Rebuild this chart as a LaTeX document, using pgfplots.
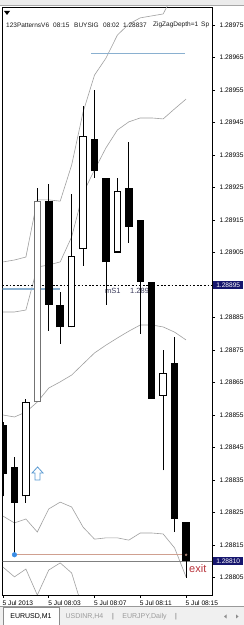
\documentclass[border=0pt]{standalone}
\usepackage{fontspec}
\setmainfont{Liberation Sans}
\usepackage{pgfplots}
\usepackage{pgfplotstable}
\pgfplotsset{compat=1.18}
\definecolor{band}{HTML}{A0A0A0}
\definecolor{lblue}{HTML}{8AB0D0}
\definecolor{navybox}{HTML}{16166E}
\definecolor{tanline}{HTML}{D0A090}
\definecolor{dotblue}{HTML}{3A8EE6}
\definecolor{arrowblue}{HTML}{5A9AD2}
\definecolor{exitred}{HTML}{B8323A}
\definecolor{msone}{HTML}{3C3C5C}
\definecolor{tabgray}{HTML}{9A9A9A}

% prices stored as (price - 1.28) * 100000
\pgfplotstableread{
x o h l c
0 8852 8853 8830 8837
1 8839 8842 8812 8828
2 8830 8860 8828 8859
3 8859 8925 8859 8921
4 8921 8926 8881 8889
5 8889 8893 8877 8882
6 8882 8923 8882 8904
7 8906 8950 8901 8941
8 8940 8955 8928 8930
9 8928 8928 8889 8902
10 8905 8928 8905 8924
11 8925 8939 8908 8913
12 8915 8915 8880 8896
13 8896 8896 8860 8860
14 8861 8875 8838 8868
15 8871 8879 8819 8823
16 8822 8822 8805 8810
}\ohlc
\pgfplotstableread{
x o c
0 8852 8837
1 8839 8828
4 8921 8889
5 8889 8882
8 8940 8930
9 8928 8902
11 8925 8913
12 8915 8896
13 8896 8860
15 8871 8823
16 8822 8810
}\bear
\pgfplotstableread{
x o c
2 8830 8859
6 8882 8904
7 8906 8941
10 8905 8924
14 8861 8868
}\bull
\pgfplotstableread{
x o c
3 8859 8921
}\bullgray

\pgfdeclareplotmark{hollowup}{%
  \pgfpathmoveto{\pgfqpoint{0pt}{6.5pt}}%
  \pgfpathlineto{\pgfqpoint{5.5pt}{0.5pt}}%
  \pgfpathlineto{\pgfqpoint{2.5pt}{0.5pt}}%
  \pgfpathlineto{\pgfqpoint{2.5pt}{-6.5pt}}%
  \pgfpathlineto{\pgfqpoint{-2.5pt}{-6.5pt}}%
  \pgfpathlineto{\pgfqpoint{-2.5pt}{0.5pt}}%
  \pgfpathlineto{\pgfqpoint{-5.5pt}{0.5pt}}%
  \pgfpathclose
  \pgfusepathqfillstroke}

\pgfplotsset{candle/.style={only marks, mark=*, mark size=0pt,
  mark options={draw opacity=0, fill opacity=0},
  error bars/.cd, y dir=plus, y explicit, error mark=none}}

\begin{document}
\begin{tikzpicture}
\path[use as bounding box] (0pt,0pt) rectangle (244pt,625pt);
\fill[white] (0pt,0pt) rectangle (244pt,625pt);
\fill[black!8] (0pt,620pt) rectangle (244pt,625pt);
\draw[black!35, line width=0.5pt] (0pt,620pt) -- (244pt,620pt);
% mS1 label (behind candles)
\node[anchor=west, inner sep=0pt, text=msone, font=\fontsize{7.5}{8}\selectfont] at (105pt,334pt) {mS1};
\node[anchor=west, inner sep=0pt, text=msone, font=\fontsize{7.5}{8}\selectfont] at (130pt,334pt) {1.2890};

\begin{axis}[
  at={(2.5pt,30pt)}, anchor=south west,
  scale only axis, width=209.5pt, height=588pt,
  xmin=-0.044, xmax=18.27, ymin=8799.62, ymax=8980.54,
  axis line style={black, line width=0.6pt},
  xtick={0,4,8,12,16},
  xticklabels={5 Jul 2013, 5 Jul 08:03, 5 Jul 08:07, 5 Jul 08:11, 5 Jul 08:15},
  ytick={8805,8815,...,8975},
  yticklabels={1.28805,1.28815,1.28825,1.28835,1.28845,1.28855,1.28865,1.28875,1.28885,{},1.28905,1.28915,1.28925,1.28935,1.28945,1.28955,1.28965,1.28975},
  xtick pos=bottom, ytick pos=right, yticklabel pos=right,
  tick align=outside, major tick length=3pt,
  tick style={black, line width=0.6pt},
  xticklabel style={anchor=north west, inner sep=0pt, yshift=-2.5pt, xshift=-0.5pt, font=\fontsize{6.6}{7}\selectfont},
  yticklabel style={anchor=west, inner sep=0pt, xshift=4.5pt, font=\fontsize{6.6}{7}\selectfont},
]
% Bollinger-type bands
\addplot[band, line width=0.6pt] coordinates {(0,8902.1)(1,8902.7)(2,8903.6)(3,8921.2)(4,8921.2)(5,8920.8)(6,8931.9)(7,8948.2)(8,8959.6)(9,8964.8)(10,8971.9)(11,8975.3)(12,8977.2)(13,8977.8)(14,8978.4)(15,8985.2)(16,8993.5)};
\addplot[band, line width=0.6pt] coordinates {(0,8886.7)(1,8886.7)(2,8887.3)(3,8900.5)(4,8901.2)(5,8902.1)(6,8909.8)(7,8923.3)(8,8930.4)(9,8937.2)(10,8942.7)(11,8945.2)(12,8946.4)(13,8946.4)(14,8946.1)(15,8949.2)(16,8952.2)};
\addplot[band, line width=0.6pt] coordinates {(0,8855.0)(1,8854.4)(2,8855.9)(3,8859.0)(4,8863.3)(5,8865.2)(6,8867.3)(7,8870.7)(8,8874.1)(9,8876.5)(10,8878.7)(11,8880.8)(12,8882.7)(13,8882.7)(14,8882.1)(15,8880.5)(16,8878.1)};
\addplot[band, line width=0.6pt] coordinates {(0,8823.9)(1,8821.8)(2,8823.0)(3,8819.0)(4,8826.1)(5,8828.2)(6,8826.7)(7,8820.5)(8,8816.8)(9,8817.2)(10,8817.2)(11,8816.5)(12,8818.7)(13,8818.7)(14,8818.4)(15,8814.1)(16,8805.2)};
\addplot[band, line width=0.6pt] coordinates {(0,8808.2)(1,8805.2)(2,8807.6)(3,8799.6)(4,8807.3)(5,8809.5)(6,8806.4)(7,8795.0)(8,8788.2)(9,8787.3)(10,8786.4)(11,8784.5)(12,8786.7)(13,8786.7)(14,8786.4)(15,8779.9)(16,8768.8)};
% horizontal levels
\addplot[black, line width=0.6pt, dash pattern=on 1.8pt off 1.8pt] coordinates {(-1,8895)(19,8895)};
\addplot[lblue, line width=1.3pt] coordinates {(7.7,8966.3)(15.9,8966.3)};
\addplot[lblue, line width=1.3pt] coordinates {(-0.1,8893.8)(5.0,8893.8)};
\addplot[black!50, line width=0.7pt] coordinates {(-1,8810)(19,8810)};
\addplot[tanline, line width=0.8pt] coordinates {(1,8812)(16,8812)};
% candles: wicks
\addplot[candle, error bar style={line width=0.9pt, black}]
  table[x=x, y=l, y error plus expr=\thisrow{h}-\thisrow{l}] {\ohlc};
% bearish bodies
\addplot[candle, error bar style={line width=7.5pt, black}]
  table[x=x, y=c, y error plus expr=\thisrow{o}-\thisrow{c}] {\bear};
% bullish bodies: outline then white fill
\addplot[candle, error bar style={line width=7.5pt, black}]
  table[x=x, y=o, y error plus expr=\thisrow{c}-\thisrow{o}] {\bull};
\addplot[candle, error bar style={line width=7.5pt, black!55}]
  table[x=x, y=o, y error plus expr=\thisrow{c}-\thisrow{o}] {\bullgray};
\addplot[candle, error bar style={line width=5.5pt, white}]
  table[x=x, y expr=\thisrow{o}+0.31, y error plus expr=\thisrow{c}-\thisrow{o}-0.62] {\bull};
\addplot[candle, error bar style={line width=5.5pt, white}]
  table[x=x, y expr=\thisrow{o}+0.31, y error plus expr=\thisrow{c}-\thisrow{o}-0.62] {\bullgray};
% signal markers
\addplot[only marks, mark=*, mark size=2.3pt, mark options={fill=dotblue, draw=dotblue}] coordinates {(1,8812)};
\addplot[only marks, mark=*, mark size=1pt, mark options={fill=tanline!80!black, draw=tanline!80!black}] coordinates {(16,8812)};
\addplot[only marks, mark=hollowup, mark options={draw=arrowblue, fill=white, line width=0.8pt}] coordinates {(3.02,8837)};
\node[anchor=west, inner sep=0pt, text=exitred, font=\fontsize{11}{12}\selectfont] at (axis cs:16.26,8807.9) {exit};
\end{axis}

% price boxes on the scale
\node[fill=navybox, text=white, inner sep=0pt, minimum height=8pt, minimum width=30pt, anchor=west, font=\fontsize{6.6}{7}\selectfont] at (213pt,340pt) {1.28895};
\node[fill=navybox, text=white, inner sep=0pt, minimum height=8pt, minimum width=30pt, anchor=west, font=\fontsize{6.6}{7}\selectfont] at (213pt,63.75pt) {1.28810};

% header text
\fill[black] (4pt,614pt) -- (10pt,614pt) -- (7pt,610pt) -- cycle;
\begin{scope}[every node/.style={anchor=west, inner sep=0pt, font=\fontsize{6.5}{7}\selectfont, text=black!90}]
\node at (6pt,600pt) {123PatternsV6};
\node at (53pt,600pt) {08:15};
\node at (74pt,600pt) {BUYSIG};
\node at (103pt,600pt) {08:02};
\node at (123pt,600pt) {1.28837};
\node at (153pt,600pt) {ZigZagDepth=1};
\node at (201pt,600pt) {Sp};
\end{scope}

% tab bar
\fill[black!6] (0pt,0pt) rectangle (244pt,19pt);
\draw[black!40, line width=0.5pt] (0pt,19pt) -- (244pt,19pt);
\filldraw[fill=white, draw=black!45, line width=0.5pt] (3pt,0pt) -- (3pt,17.5pt) -- (59pt,17.5pt) -- (59pt,0pt);
\node[font=\fontsize{7}{8}\selectfont, text=black, inner sep=0pt] at (31pt,8.5pt) {EURUSD,M1};
\node[font=\fontsize{7}{8}\selectfont, text=tabgray, inner sep=0pt] at (84.5pt,8.5pt) {USDINR,H4};
\node[font=\fontsize{7}{8}\selectfont, text=black!60, inner sep=0pt] at (113pt,8.5pt) {|};
\node[font=\fontsize{7}{8}\selectfont, text=tabgray, inner sep=0pt] at (144.5pt,8.5pt) {EURJPY,Daily};
\node[font=\fontsize{7}{8}\selectfont, text=black!60, inner sep=0pt] at (176pt,8.5pt) {|};
\fill[black!45] (226.5pt,6.5pt) -- (226.5pt,10.5pt) -- (224pt,8.5pt) -- cycle;
\fill[black!45] (236pt,6.5pt) -- (236pt,10.5pt) -- (238.5pt,8.5pt) -- cycle;
\end{tikzpicture}
\end{document}
